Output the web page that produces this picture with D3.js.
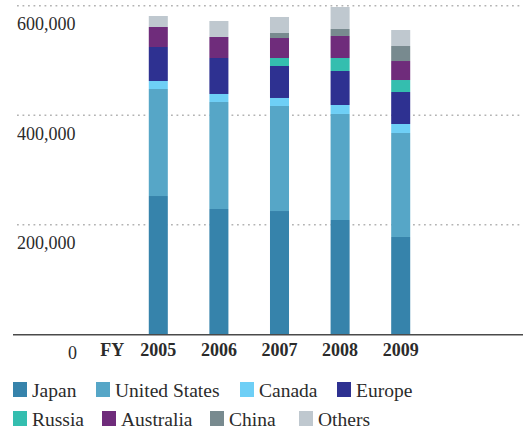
<!DOCTYPE html>
<html>
<head>
<meta charset="utf-8">
<script src="https://cdn.jsdelivr.net/npm/d3@7"></script>
<style>
  html, body { margin: 0; padding: 0; background: #fff; }
  svg { display: block; }
  text { font-family: "Liberation Serif", "DejaVu Serif", serif; fill: #2b2b2b; }
</style>
</head>
<body>
<svg id="chart" width="523" height="430"></svg>
<script>
const years = ["2005", "2006", "2007", "2008", "2009"];
const seriesNames = ["Japan", "United States", "Canada", "Europe", "Russia", "Australia", "China", "Others"];
const japan        = [252500, 228800, 225100, 208700, 177700];
const unitedStates = [195400, 195400, 191800, 193600, 189900];
const canada       = [14600, 14600, 14600, 16400, 16400];
const europe       = [62100, 65700, 58400, 62100, 58400];
const russia       = [0, 0, 14600, 23700, 21900];
const australia    = [36500, 38400, 36500, 40200, 34700];
const china        = [0, 0, 9200, 12800, 27400];
const others       = [20100, 29200, 29200, 40100, 29200];
const yTicks = [200000, 400000, 600000];
const colors = ["#3683ab", "#56a6c7", "#6ecff6", "#2e3191", "#34beaf", "#6f2c7b", "#788a8f", "#bfc8cf"];

const seriesValues = [japan, unitedStates, canada, europe, russia, australia, china, others];
const table = years.map((yr, i) => {
  const row = { year: yr };
  seriesNames.forEach((n, k) => { row[n] = seriesValues[k][i]; });
  return row;
});

const svg = d3.select("#chart");
const x = d3.scaleBand().domain(years).range([128, 431]).paddingInner(0.686).paddingOuter(0.343);
const y = d3.scaleLinear().domain([0, 600000]).range([334.3, 5.7]);
const fmt = d3.format(",");

// gridlines
svg.append("g").selectAll("line").data(yTicks).join("line")
  .attr("x1", 17).attr("x2", 523)
  .attr("y1", d => y(d)).attr("y2", d => y(d))
  .attr("stroke", "#b3b3b3").attr("stroke-width", 1.6)
  .attr("stroke-dasharray", "1.8,3.7");

// y labels (below gridlines)
svg.append("g").selectAll("text").data(yTicks).join("text")
  .attr("x", 17).attr("y", d => y(d) + 24.5)
  .attr("font-size", 18)
  .text(d => fmt(d));

// stacked bars
const stack = d3.stack().keys(seriesNames)(table);
svg.append("g").selectAll("g").data(stack).join("g")
  .attr("fill", (d, i) => colors[i])
  .selectAll("rect").data(d => d).join("rect")
  .attr("x", d => x(d.data.year))
  .attr("width", x.bandwidth())
  .attr("y", d => y(d[1]))
  .attr("height", d => y(d[0]) - y(d[1]));

// baseline
svg.append("line").attr("x1", 13).attr("x2", 523)
  .attr("y1", y(0) + 0.4).attr("y2", y(0) + 0.4)
  .attr("stroke", "#4a4a4a").attr("stroke-width", 1.6);

// x labels
svg.append("g").selectAll("text").data(years).join("text")
  .attr("x", d => x(d) + x.bandwidth() / 2).attr("y", 356)
  .attr("text-anchor", "middle").attr("font-size", 18).attr("font-weight", "bold")
  .text(d => d);
svg.append("text").attr("x", x(years[0]) + x.bandwidth() / 2 - 46).attr("y", 356)
  .attr("text-anchor", "middle").attr("font-size", 18).attr("font-weight", "bold").text("FY");
svg.append("text").attr("x", 72.5).attr("y", 358.5)
  .attr("text-anchor", "middle").attr("font-size", 18).text("0");

// legend
const legendPos = [[13, 382], [96, 382], [240, 382], [337, 382], [13, 411], [102, 411], [210, 411], [299, 411]];
const lg = svg.append("g").selectAll("g").data(seriesNames).join("g")
  .attr("transform", (d, i) => `translate(${legendPos[i][0]},${legendPos[i][1]})`);
lg.append("rect").attr("width", 14).attr("height", 15).attr("fill", (d, i) => colors[i]);
lg.append("text").attr("x", 19).attr("y", 14.5).attr("font-size", 19.5).text(d => d);
</script>
</body>
</html>
